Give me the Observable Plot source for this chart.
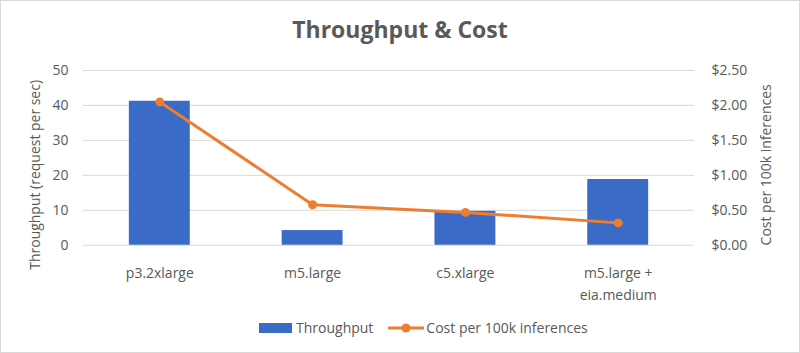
<!DOCTYPE html>
<html><head><meta charset="utf-8">
<script src="https://cdn.jsdelivr.net/npm/d3@7"></script>
<script src="https://cdn.jsdelivr.net/npm/@observablehq/plot@0.6"></script>
<style>
html,body{margin:0;padding:0;background:#fff;}
#wrap{position:relative;width:800px;height:353px;box-sizing:border-box;border:1px solid #d9d9d9;font-family:"Open Sans",sans-serif;color:#595959;overflow:hidden;}
#title{position:absolute;left:-1px;top:17px;width:800px;text-align:center;font-size:23px;line-height:23px;font-weight:bold;color:#595959;}
#chart{position:absolute;left:-1px;top:53px;}
#legend{position:absolute;left:257px;top:320px;display:flex;align-items:center;font-size:14px;line-height:14px;color:#595959;white-space:nowrap;}
#legend .item{display:flex;align-items:center;}
</style></head>
<body><div id="wrap"><div id="title">Throughput &amp; Cost</div><div id="chart"></div><div id="legend"></div></div>
<script>
const categories = ["p3.2xlarge", "m5.large", "c5.xlarge", "m5.large + eia.medium"];
const throughput = [41.2, 4.2, 9.7, 18.8];
const costPer100k = [2.05, 0.58, 0.47, 0.32];
const leftTicks = [0, 10, 20, 30, 40, 50];
const rightTicks = [0, 0.5, 1, 1.5, 2, 2.5];
const seriesNames = ["Throughput", "Cost per 100k inferences"];
const axisTitles = ["Throughput (request per sec)", "Cost per 100k inferences"];

const blue = "#3a6bc6", orange = "#ed7d31", grey = "#595959";
const ratio = 50 / 2.5; // right axis max / left axis max
const rows = categories.map((c, i) => ({cat: c, thr: throughput[i], cost: costPer100k[i]}));

const chart = Plot.plot({
  width: 800, height: 252,
  marginTop: 16, marginBottom: 61, marginLeft: 83, marginRight: 105,
  style: {fontFamily: "'Open Sans', sans-serif", fontSize: "14px", color: grey, overflow: "visible"},
  x: {domain: categories, paddingInner: 0.6, paddingOuter: 0.3, label: null},
  y: {domain: [0, 50], label: null},
  marks: [
    Plot.gridY(leftTicks, {stroke: "#d9d9d9", strokeOpacity: 1, strokeWidth: 1}),
    Plot.barY(rows, {x: "cat", y: "thr", fill: blue}),
    Plot.line(rows, {x: "cat", y: d => d.cost * ratio, stroke: orange, strokeWidth: 3}),
    Plot.dot(rows, {x: "cat", y: d => d.cost * ratio, fill: orange, r: 4.5}),
    Plot.axisX({tickSize: 0, tickPadding: 17, label: null, fill: grey,
      tickFormat: d => d.replace(" + ", " +\n"), lineHeight: 1.57}),
    Plot.axisY(leftTicks, {anchor: "left", tickSize: 0, tickPadding: 15, fill: grey, label: null}),
    Plot.axisY(rightTicks.map(v => v * ratio), {anchor: "right", tickSize: 0, tickPadding: 17, fill: grey,
      tickFormat: v => "$" + (v / ratio).toFixed(2), label: null}),
    Plot.text([axisTitles[0]], {frameAnchor: "left", rotate: -90, dx: -48, dy: 17, fill: grey, textAnchor: "middle", lineAnchor: "middle"}),
    Plot.text([axisTitles[1]], {frameAnchor: "right", rotate: -90, dx: 72, dy: 7, fill: grey, textAnchor: "middle", lineAnchor: "middle"})
  ]
});
document.getElementById("chart").appendChild(chart);

const lg = document.getElementById("legend");
lg.innerHTML = `
<div class="item"><svg width="35" height="12" style="margin-right:3px"><rect x="1" y="1" width="33" height="10" fill="${blue}"/></svg>${seriesNames[0]}</div>
<div class="item" style="margin-left:15px"><svg width="36" height="12" style="margin-right:2px"><line x1="0" y1="6" x2="36" y2="6" stroke="${orange}" stroke-width="3"/><circle cx="18" cy="6" r="4.5" fill="${orange}"/></svg>${seriesNames[1]}</div>`;
</script></body></html>
